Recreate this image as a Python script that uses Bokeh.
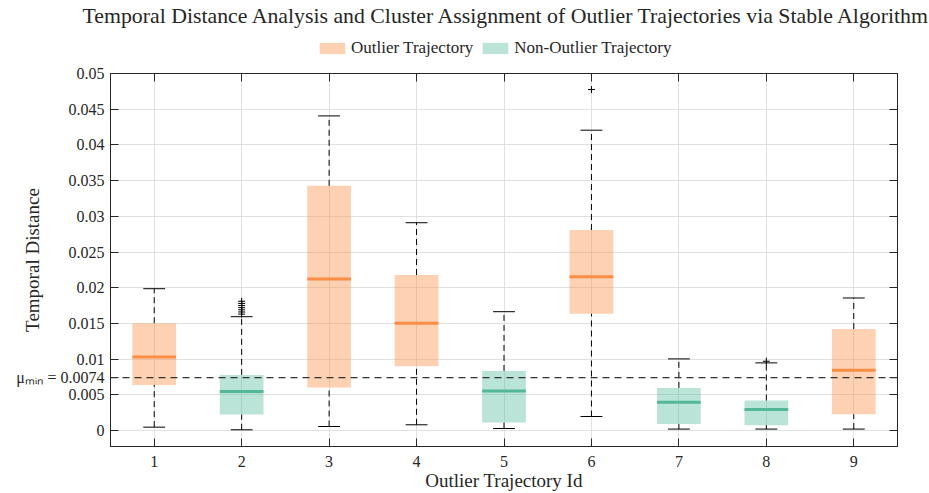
from bokeh.plotting import figure
from bokeh.layouts import column
from bokeh.models import (ColumnDataSource, FixedTicker, LinearAxis, Legend, LegendItem,
                          Range1d, Span)
from bokeh.embed import file_html
from bokeh.resources import INLINE

# ---- data ----
ids = [1, 2, 3, 4, 5, 6, 7, 8, 9]
is_outlier = [True, False, True, True, False, True, False, False, True]
lower_whisker = [0.00047, 0.0001, 0.00056, 0.0008, 0.00028, 0.00196, 0.0002, 0.0002, 0.0002]
q1 = [0.00639, 0.00224, 0.00602, 0.0090, 0.00112, 0.01636, 0.0009, 0.00075, 0.00229]
median = [0.0103, 0.00546, 0.02122, 0.01502, 0.00555, 0.02154, 0.00397, 0.00294, 0.00845]
q3 = [0.01502, 0.00779, 0.03427, 0.02178, 0.00835, 0.02807, 0.00597, 0.0042, 0.01422]
upper_whisker = [0.01986, 0.01594, 0.04406, 0.0291, 0.01664, 0.04206, 0.01003, 0.00947, 0.01856]
flier_ids = [2, 2, 2, 2, 2, 2, 2, 6, 8]
flier_vals = [0.0163, 0.0166, 0.0169, 0.0172, 0.0175, 0.0178, 0.0181, 0.04775, 0.0097]
mu_min = 0.0074
mu_label = "μₘᵢₙ = 0.0074"
y_ticks = [0.0, 0.005, 0.01, 0.015, 0.02, 0.025, 0.03, 0.035, 0.04, 0.045, 0.05]
y_tick_labels = ["0", "0.005", "0.01", "0.015", "0.02", "0.025", "0.03", "0.035", "0.04", "0.045", "0.05"]
legend_labels = ["Outlier Trajectory", "Non-Outlier Trajectory"]

FONT = "Liberation Serif"
TXT = "#262626"
ORANGE = "#fb8d3d"
ORANGE_MED = "#fc8d45"
TEAL = "#52bc9a"
TEAL_MED = "#52b898"

BOX_W = 0.5
CAP_W = 0.25
HEAD_H = 60


def build(sel):
    idx = [i for i in range(len(ids)) if is_outlier[i] == sel]
    return ColumnDataSource(dict(
        x=[ids[i] for i in idx],
        lo=[lower_whisker[i] for i in idx],
        q1=[q1[i] for i in idx],
        med=[median[i] for i in idx],
        q3=[q3[i] for i in idx],
        hi=[upper_whisker[i] for i in idx],
        xl=[ids[i] - BOX_W / 2 for i in idx],
        xr=[ids[i] + BOX_W / 2 for i in idx],
        cl=[ids[i] - CAP_W / 2 for i in idx],
        cr=[ids[i] + CAP_W / 2 for i in idx],
    ))


# ---------------- header: title + legend ----------------
head = figure(width=929, height=HEAD_H, output_backend="svg", toolbar_location=None,
              x_range=Range1d(0, 1), y_range=Range1d(0, 1),
              x_axis_location=None, y_axis_location=None,
              min_border_left=110, min_border_right=32, min_border_top=2, min_border_bottom=0)
head.outline_line_color = None
head.grid.visible = False
head.title.text = "Temporal Distance Analysis and Cluster Assignment of Outlier Trajectories via Stable Algorithm"
head.title.text_font = FONT
head.title.text_font_size = "21.8px"
head.title.text_font_style = "normal"
head.title.text_color = TXT
head.title.align = "left"
head.title.standoff = 2
head.title.offset = -28

legend_items = []
for lab, col in zip(legend_labels, [ORANGE, TEAL]):
    # legend swatch only: the single bar lies outside the header's visible range
    r = head.vbar(x=[-5], bottom=[-5], top=[-4], width=0.5,
                  fill_color=col, fill_alpha=0.4, line_color=None)
    legend_items.append(LegendItem(label=lab, renderers=[r]))
legend = Legend(items=legend_items, orientation="horizontal", location=(206, 2))
legend.label_text_font = FONT
legend.label_text_font_size = "17px"
legend.label_text_color = TXT
legend.border_line_color = None
legend.background_fill_alpha = 0
legend.glyph_width = 32
legend.glyph_height = 14
legend.label_height = 16
legend.label_standoff = 3
legend.spacing = 6
legend.padding = 2
legend.margin = 0
head.add_layout(legend)

# ---------------- main plot ----------------
p = figure(width=929, height=493 - HEAD_H, output_backend="svg", toolbar_location=None,
           x_range=Range1d(0.5, 9.5), y_range=Range1d(-0.00224, 0.05),
           min_border_left=110, min_border_right=32, min_border_top=13, min_border_bottom=46)
p.background_fill_color = "white"
p.border_fill_color = "white"
p.outline_line_color = TXT
p.outline_line_width = 1

p.xaxis.ticker = FixedTicker(ticks=ids)
ytick_all = y_ticks + [mu_min]
overrides = {t: l for t, l in zip(y_ticks, y_tick_labels)}
overrides[mu_min] = mu_label
p.yaxis.ticker = FixedTicker(ticks=ytick_all)
p.yaxis.major_label_overrides = overrides

for ax in [p.xaxis[0], p.yaxis[0]]:
    ax.major_tick_in = 8
    ax.major_tick_out = 0
    ax.minor_tick_in = 0
    ax.minor_tick_out = 0
    ax.axis_line_color = TXT
    ax.major_tick_line_color = TXT
    ax.major_label_text_font = FONT
    ax.major_label_text_font_size = "16px"
    ax.major_label_text_color = TXT
    ax.axis_label_text_font = FONT
    ax.axis_label_text_font_size = "19px"
    ax.axis_label_text_font_style = "normal"
    ax.axis_label_text_color = TXT

p.xaxis.axis_label = "Outlier Trajectory Id"
p.yaxis.axis_label = "Temporal Distance"
p.xaxis.major_label_standoff = 9
p.xaxis.axis_label_standoff = 0
p.yaxis.major_label_standoff = 6
p.yaxis.axis_label_standoff = -30

p.xgrid.ticker = FixedTicker(ticks=ids)
p.ygrid.ticker = FixedTicker(ticks=y_ticks)
p.grid.grid_line_color = "#d9d9d9"
p.grid.grid_line_alpha = 0.8
p.grid.grid_line_width = 1

for sel, col, med_col in [(True, ORANGE, ORANGE_MED), (False, TEAL, TEAL_MED)]:
    src = build(sel)
    p.segment(x0="x", y0="q3", x1="x", y1="hi", source=src, line_color="black",
              line_width=1, line_dash="6 4")
    p.segment(x0="x", y0="lo", x1="x", y1="q1", source=src, line_color="black",
              line_width=1, line_dash="6 4")
    p.segment(x0="cl", y0="hi", x1="cr", y1="hi", source=src, line_color="black", line_width=1)
    p.segment(x0="cl", y0="lo", x1="cr", y1="lo", source=src, line_color="black", line_width=1)
    p.vbar(x="x", width=BOX_W, bottom="q1", top="q3", source=src,
           fill_color=col, fill_alpha=0.4, line_color=None)
    p.segment(x0="xl", y0="med", x1="xr", y1="med", source=src,
              line_color=med_col, line_width=3)

# mirrored ticks on top and right
top = LinearAxis(ticker=FixedTicker(ticks=ids), major_label_overrides={i: " " for i in ids})
right = LinearAxis(ticker=FixedTicker(ticks=ytick_all),
                   major_label_overrides={t: " " for t in ytick_all})
for ax in [top, right]:
    ax.major_tick_in = 8
    ax.major_tick_out = 0
    ax.minor_tick_in = 0
    ax.minor_tick_out = 0
    ax.axis_line_color = TXT
    ax.major_tick_line_color = TXT
    ax.major_label_text_font_size = "2px"
    ax.major_label_standoff = 0
p.add_layout(right, "right")
p.add_layout(top, "above")

p.scatter(x=flier_ids, y=flier_vals, marker="cross", size=7, line_color="black", line_width=1)

p.add_layout(Span(location=mu_min, dimension="width", line_color="#333333",
                  line_width=1.3, line_dash="7 5"))

layout = column(head, p, spacing=0)
open("out.html", "w").write(file_html(layout, INLINE))
